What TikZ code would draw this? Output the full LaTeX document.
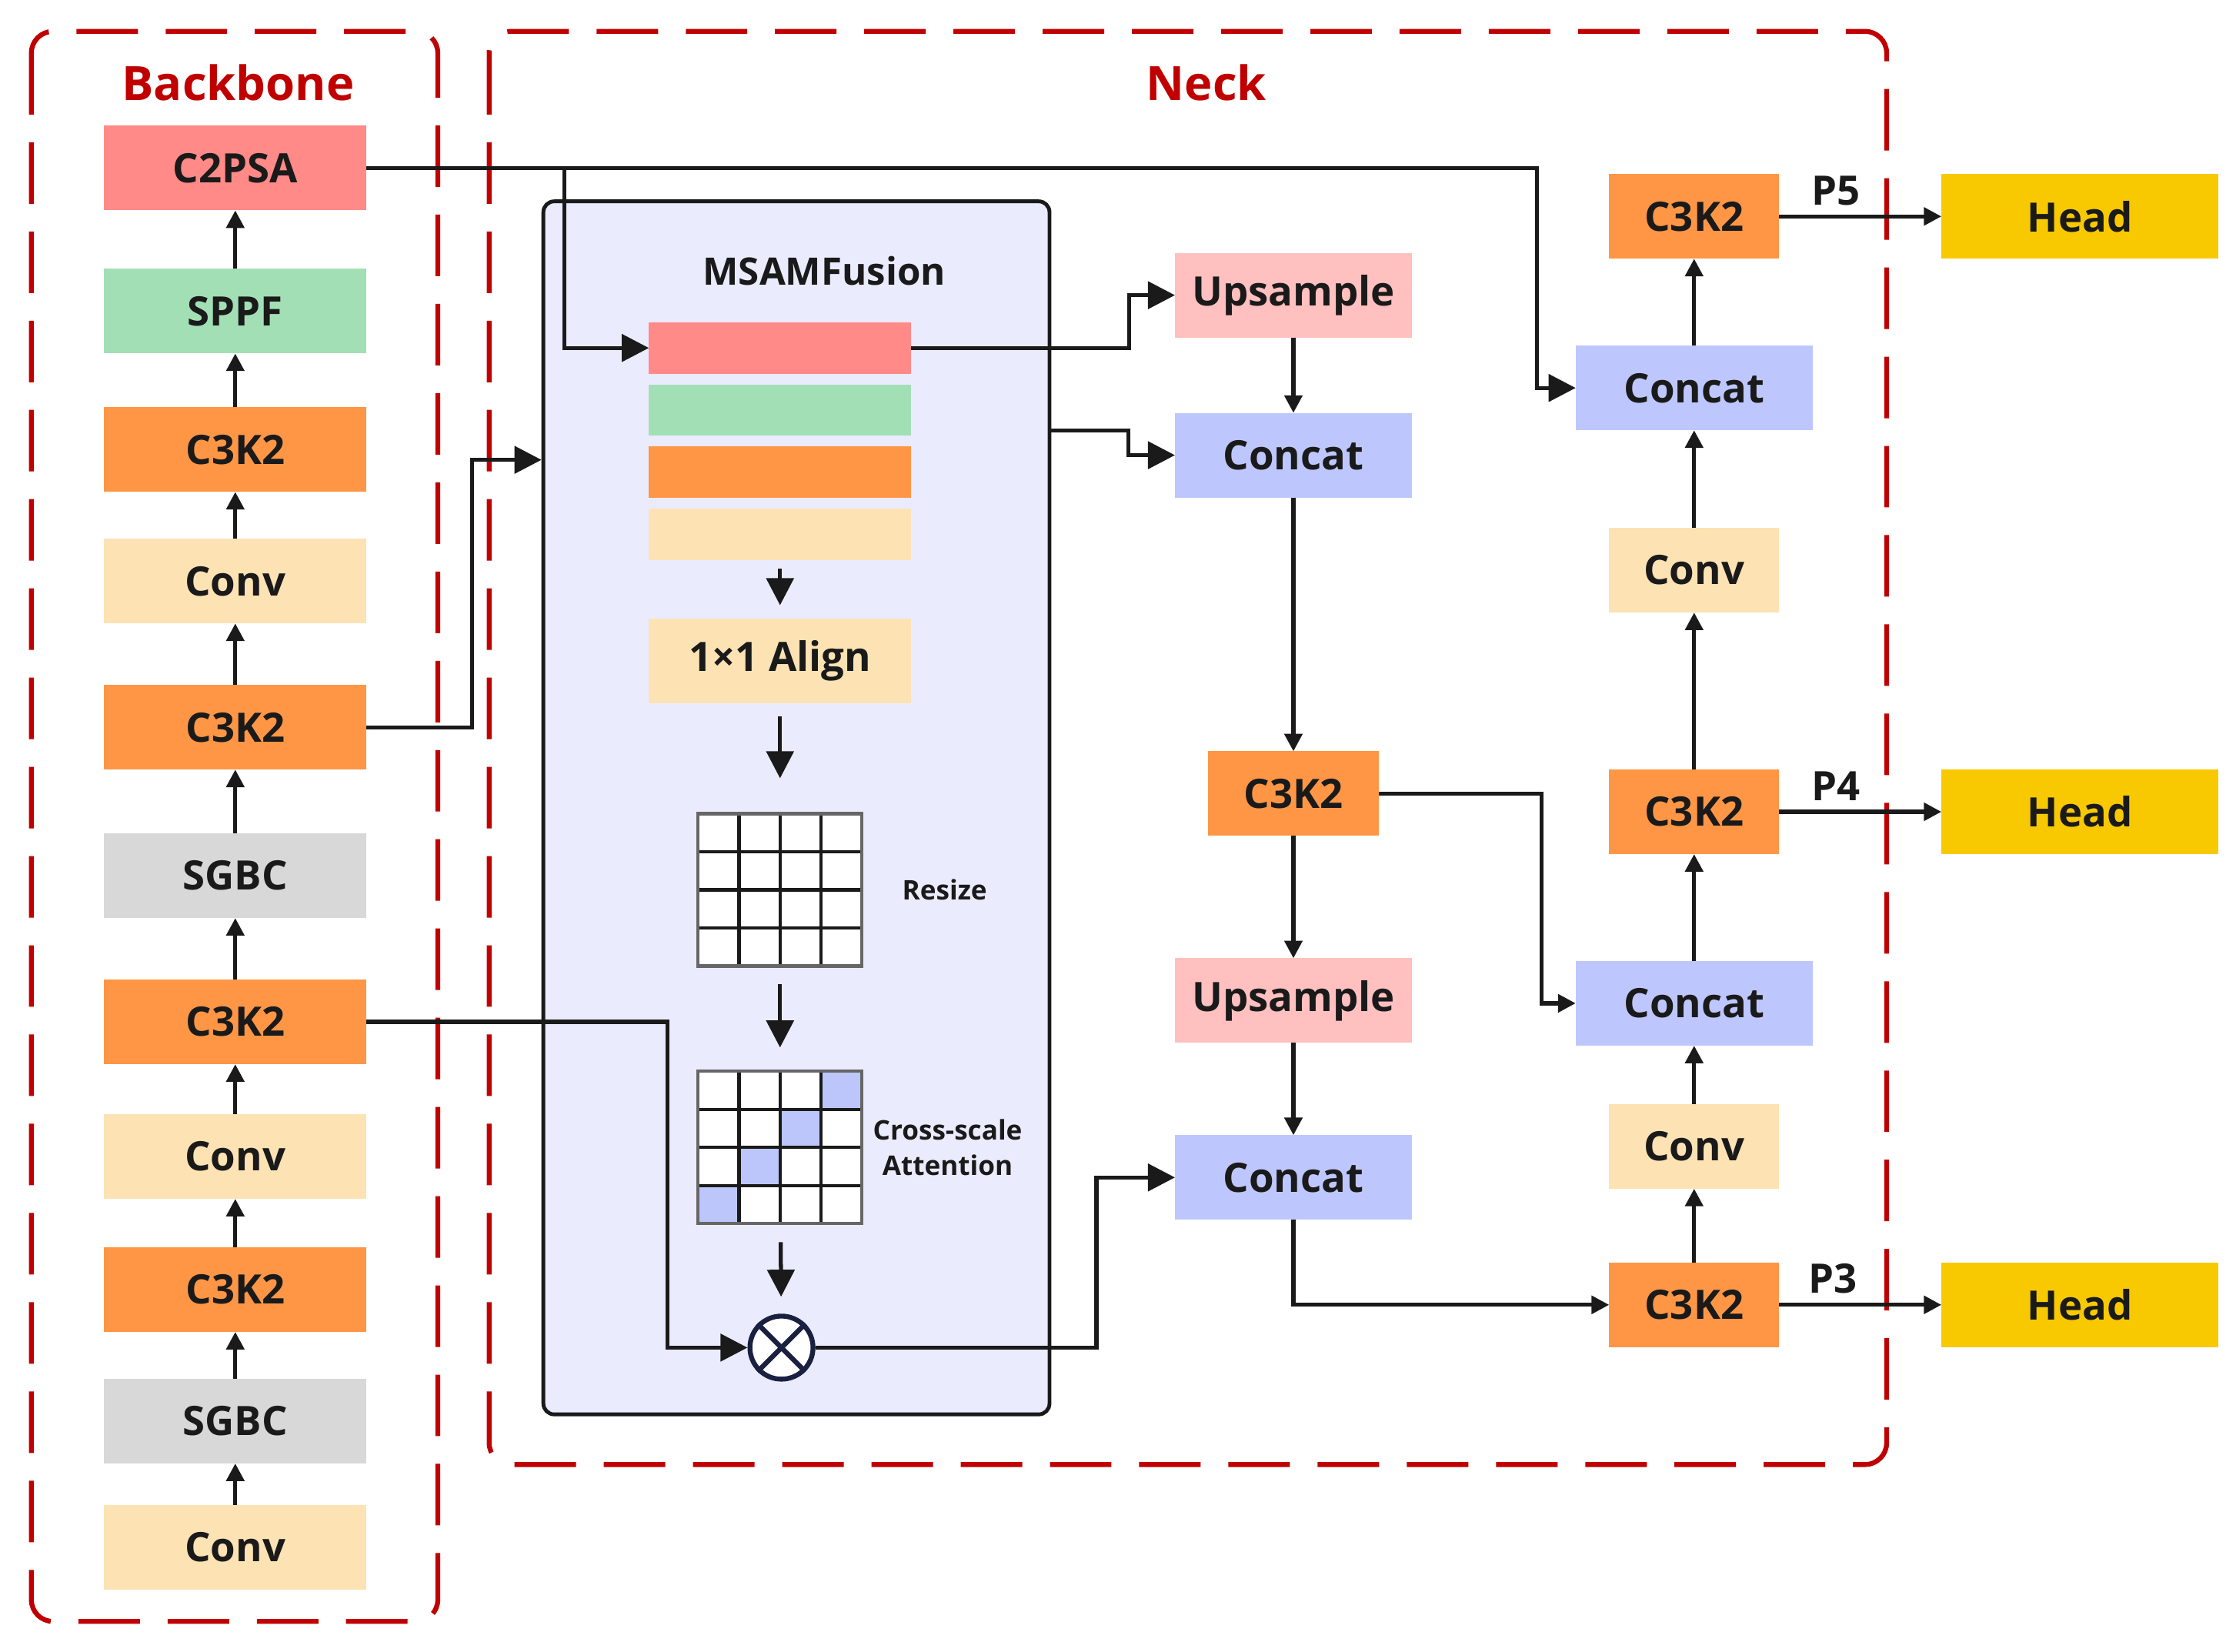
\documentclass[tikz,border=0pt]{standalone}
\usepackage{fontspec}
\setmainfont{Open Sans}
\usepackage{tikz}
\usetikzlibrary{arrows.meta,positioning,calc}
\definecolor{TxtDark}{HTML}{1A1A1A}
\definecolor{GroupRed}{HTML}{C00000}
\definecolor{PsaRed}{HTML}{FF8A87}
\definecolor{SppfGreen}{HTML}{A2DFB5}
\definecolor{CkOrange}{HTML}{FF9646}
\definecolor{ConvCream}{HTML}{FDE2B3}
\definecolor{SgbcGray}{HTML}{D8D8D8}
\definecolor{UpPink}{HTML}{FFC0BF}
\definecolor{CatBlue}{HTML}{BEC7FD}
\definecolor{HeadGold}{HTML}{F8C900}
\definecolor{FuseLav}{HTML}{EAEBFD}
\definecolor{CellBlue}{HTML}{BCC6FA}
\definecolor{OtNavy}{HTML}{1A2040}
\tikzset{
  % Base block
  BX/.style={rectangle,minimum width=3.41cm,minimum height=1.10cm,
             inner sep=0pt,outer sep=0pt,text centered,text=TxtDark,
             font=\fontsize{15}{18}\selectfont\bfseries},
  % Colour variants
  bR/.style={BX,fill=PsaRed},
  bG/.style={BX,fill=SppfGreen},
  bO/.style={BX,fill=CkOrange},
  bY/.style={BX,fill=ConvCream},
  bS/.style={BX,fill=SgbcGray},
  bP/.style={BX,fill=UpPink,minimum width=3.08cm},
  bB/.style={BX,fill=CatBlue,minimum width=3.08cm},
  bH/.style={BX,fill=HeadGold,minimum width=3.6cm},
  % Fusion parts
  fuse/.style={rectangle,rounded corners=4pt,draw=TxtDark,line width=1.4pt,
               fill=FuseLav,minimum width=6.58cm,minimum height=15.77cm},
  bar/.style={rectangle,minimum width=3.41cm,minimum height=0.667cm,inner sep=0pt,outer sep=0pt},
  gridbox/.style={rectangle,fill=white,minimum width=2.13cm,minimum height=1.98cm,inner sep=0pt,outer sep=0pt},
  otm/.style={circle,draw=OtNavy,line width=1.8pt,fill=white,minimum size=0.82cm,inner sep=0pt},
  % Arrows
  arr/.style={-{Triangle[length=6.5pt,width=6.5pt]},line width=1.5pt,draw=TxtDark},
  arrL/.style={-{Triangle[length=10pt,width=10pt]},line width=1.5pt,draw=TxtDark},
  % Groups and labels
  grp/.style={draw=GroupRed,line width=1.8pt,rounded corners=8pt,
              dash pattern=on 0.8cm off 0.36cm},
  ttl/.style={text=GroupRed,font=\fontsize{17.5}{21}\selectfont\bfseries},
  lbl/.style={text=TxtDark,font=\fontsize{10}{13}\selectfont\bfseries,align=center},
  plbl/.style={text=TxtDark,font=\fontsize{15}{18}\selectfont\bfseries}
}

\begin{document}
\begin{tikzpicture}[x=0.018533cm,y=-0.018533cm]
  \useasboundingbox (0,0) rectangle (1568,1158);

  % groups
  \draw[grp] (22,22) rectangle (307,1137);
  \draw[grp] (343,22) rectangle (1323,1027);
  \node[ttl] (bbt) at (167,58) {Backbone};
  \node[ttl] (nkt) at (846,58) {Neck};

  % backbone, bottom to top
  \node[bY]                      (b1)  at (165,1085) {Conv};
  \node[bS,above=0.54cm of b1]   (b2)  {SGBC};
  \node[bO,above=0.61cm of b2]   (b3)  {C3K2};
  \node[bY,above=0.63cm of b3]   (b4)  {Conv};
  \node[bO,above=0.65cm of b4]   (b5)  {C3K2};
  \node[bS,above=0.80cm of b5]   (b6)  {SGBC};
  \node[bO,above=0.83cm of b6]   (b7)  {C3K2};
  \node[bY,above=0.80cm of b7]   (b8)  {Conv};
  \node[bO,above=0.61cm of b8]   (b9)  {C3K2};
  \node[bG,above=0.70cm of b9]   (b10) {SPPF};
  \node[bR,above=0.76cm of b10]  (b11) {C2PSA};
  \foreach \a/\b in {b1/b2,b2/b3,b3/b4,b4/b5,b5/b6,b6/b7,b7/b8,b8/b9,b9/b10,b10/b11}
    \draw[arr] (\a) -- (\b);

  % MSAMFusion block
  \node[fuse] (msam) at (558.5,566.5) {};
  \node[text=TxtDark,font=\fontsize{14}{17}\selectfont\bfseries] (msamt) at (578,190) {MSAMFusion};
  \node[bar,fill=PsaRed]                         (f1) at (547,244) {};
  \node[bar,fill=SppfGreen,below=0.14cm of f1]   (f2) {};
  \node[bar,fill=CkOrange,below=0.14cm of f2]    (f3) {};
  \node[bar,fill=ConvCream,below=0.14cm of f3]   (f4) {};
  \node[bY,below=0.76cm of f4]                   (algn) {1×1 Align};
  \node[gridbox,below=1.44cm of algn]            (rs) {};
  \node[gridbox,below=1.37cm of rs]              (ca) {};
  \node[otm] (ot) at (548,945) {};
  \draw[OtNavy,line width=1.8pt] (ot.45) -- (ot.225) (ot.135) -- (ot.315);

  % attention cells
  \foreach \c/\r in {3/0,2/1,1/2,0/3}
    \fill[CellBlue] ($(ca.north west)+(\c*28.75,\r*26.75)$) rectangle ++(28.75,26.75);
  % grid lines
  \foreach \g in {rs,ca}{
    \foreach \i in {1,2,3}{
      \draw[TxtDark,line width=1.2pt] ($(\g.north west)!\i/4!(\g.north east)$) -- ($(\g.south west)!\i/4!(\g.south east)$);
      \draw[TxtDark,line width=1.2pt] ($(\g.north west)!\i/4!(\g.south west)$) -- ($(\g.north east)!\i/4!(\g.south east)$);
    }
    \draw[gray!80!black,line width=1.2pt] (\g.north west) rectangle (\g.south east);
  }
  \node[lbl,right=0.4cm of rs] (rsl) {Resize};
  \node[lbl,right=0.02cm of ca] (cal) {Cross-scale\\Attention};

  \draw[arrL,shorten <=0.11cm,shorten >=0.17cm] (f4) -- (algn);
  \draw[arrL,shorten <=0.17cm,shorten >=0.46cm] (algn) -- (rs);
  \draw[arrL,shorten <=0.24cm,shorten >=0.31cm] (rs) -- (ca);
  \draw[arrL,shorten <=0.24cm,shorten >=0.22cm] (ca) -- (ot);

  % neck, middle column
  \node[bP]                                      (up1)  at (907,207) {Upsample};
  \node[bB,below=0.98cm of up1]                  (cat1) {Concat};
  \node[bO,minimum width=2.22cm,below=3.30cm of cat1] (c3m) {C3K2};
  \node[bP,below=1.59cm of c3m]                  (up2)  {Upsample};
  \node[bB,below=1.20cm of up2]                  (cat2) {Concat};

  % neck, right column
  \node[bO,minimum width=2.21cm]                      (p3)   at (1188,915) {C3K2};
  \node[bY,minimum width=2.21cm,above=0.96cm of p3]   (cv3)  {Conv};
  \node[bB,above=0.76cm of cv3]                       (cat4) {Concat};
  \node[bO,minimum width=2.21cm,above=1.39cm of cat4] (p4)   {C3K2};
  \node[bY,minimum width=2.21cm,above=2.04cm of p4]   (cv4)  {Conv};
  \node[bB,above=1.27cm of cv4]                       (cat5) {Concat};
  \node[bO,minimum width=2.21cm,above=1.13cm of cat5] (p5)   {C3K2};

  % heads
  \node[bH,right=2.11cm of p5] (h5) {Head};
  \node[bH,right=2.11cm of p4] (h4) {Head};
  \node[bH,right=2.11cm of p3] (h3) {Head};

  % connectors
  \draw[arrL] (b11.east) -- ++(821,0) |- (cat5.west);
  \draw[arrL] ($(b11.east)+(139,0)$) |- (f1.west);
  \draw[arrL] (f1.east) -- ++(153,0) |- (up1.west);
  \draw[arrL] ($(msam.north east)!0.19!(msam.south east)$) -- ++(54,0) |- (cat1.west);
  \draw[arrL] (b7.east) -- ++(74,0) |- ($(msam.north west)!0.214!(msam.south west)$);
  \draw[arrL] (b5.east) -- ++(211,0) |- (ot.west);
  \draw[arrL] (ot.east) -- ++(197,0) |- (cat2.west);

  \foreach \a/\b in {up1/cat1,cat1/c3m,c3m/up2,up2/cat2,p3/cv3,cv3/cat4,cat4/p4,p4/cv4,cv4/cat5,cat5/p5}
    \draw[arr] (\a) -- (\b);
  \draw[arr] (cat2.south) |- (p3.west);
  \draw[arr] (c3m.east) -- ++(114,0) |- (cat4.west);

  \draw[arr] (p5) -- node[plbl,above,pos=0.35]{P5} (h5);
  \draw[arr] (p4) -- node[plbl,above,pos=0.35]{P4} (h4);
  \draw[arr] (p3) -- node[plbl,above,pos=0.33]{P3} (h3);
\end{tikzpicture}
\end{document}
